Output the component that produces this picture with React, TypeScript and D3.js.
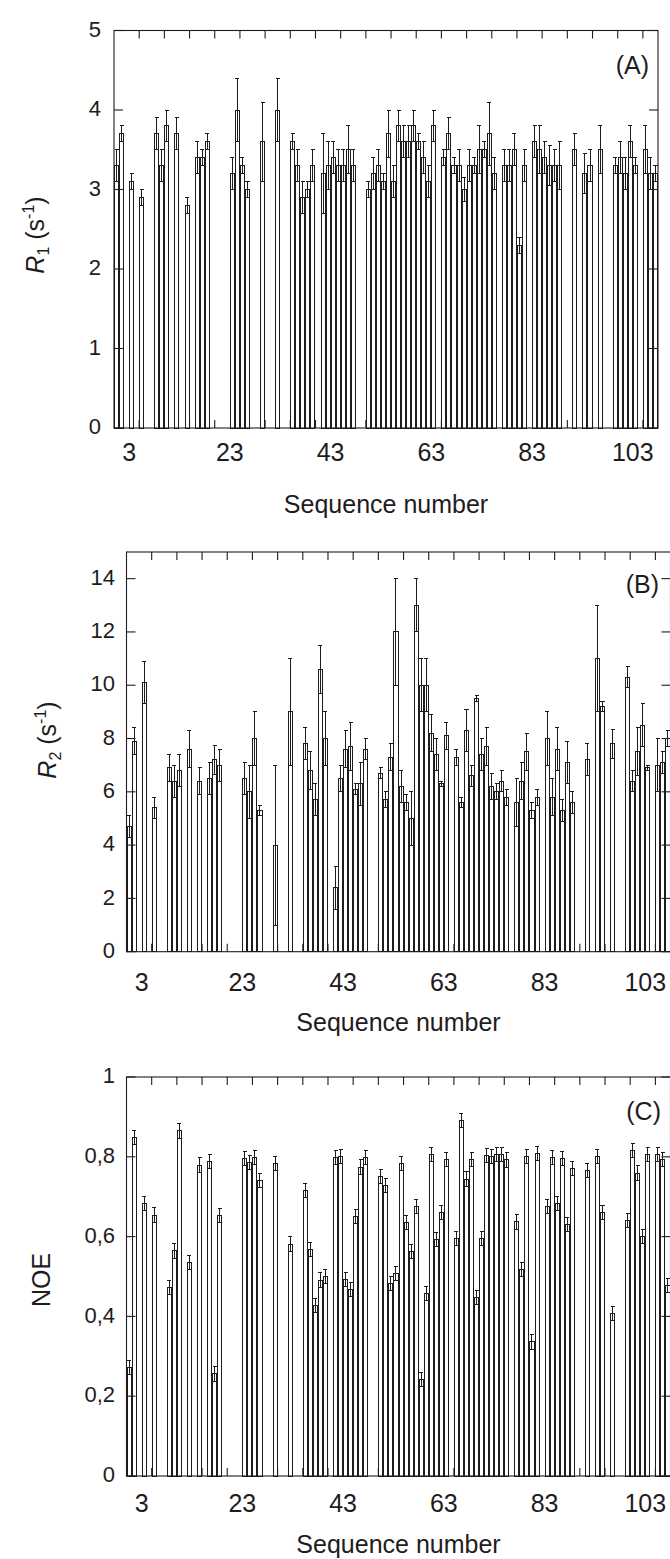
import * as d3 from 'd3';

// residues that carry a measurement (same set in all three panels)
const residues = [
  1, 2, 4, 6, 9, 10, 11, 13, 15, 17, 18, 19,
  24, 25, 26, 27, 30, 33,
  36, 37, 38, 39, 40,
  42, 43, 44, 45, 46, 47, 48,
  51, 52, 53, 54, 55, 56, 57, 58, 59, 60, 61, 62, 63, 64,
  66, 67, 68, 69, 70, 71, 72, 73, 74, 75, 76,
  78, 79, 80, 81, 82,
  84, 85, 86, 87, 88, 89,
  92, 94, 95, 97,
  100, 101, 102, 103, 104,
  106, 107, 108,
];

const r1 = [
  3.3, 3.7, 3.1, 2.9, 3.7, 3.3, 3.8, 3.7, 2.8, 3.4, 3.4, 3.6,
  3.2, 4.0, 3.3, 3.0, 3.6, 4.0,
  3.6, 3.3, 2.9, 3.0, 3.3,
  3.2, 3.3, 3.4, 3.3, 3.3, 3.5, 3.3,
  3.0, 3.2, 3.3, 3.1, 3.7, 3.1, 3.8, 3.6, 3.6, 3.8, 3.6, 3.4, 3.1, 3.8,
  3.4, 3.7, 3.3, 3.3, 3.0, 3.3, 3.3, 3.5, 3.5, 3.7, 3.2,
  3.3, 3.3, 3.5, 2.3, 3.3,
  3.6, 3.5, 3.4, 3.3, 3.3, 3.3,
  3.5, 3.2, 3.3, 3.5,
  3.3, 3.4, 3.2, 3.6, 3.3,
  3.5, 3.2, 3.2,
];
const r1Err = [
  0.2, 0.1, 0.1, 0.1, 0.2, 0.2, 0.2, 0.2, 0.1, 0.2, 0.1, 0.1,
  0.2, 0.4, 0.1, 0.1, 0.5, 0.4,
  0.1, 0.2, 0.2, 0.1, 0.2,
  0.5, 0.3, 0.2, 0.2, 0.2, 0.3, 0.2,
  0.1, 0.2, 0.2, 0.1, 0.3, 0.2, 0.2, 0.2, 0.2, 0.2, 0.1, 0.2, 0.2, 0.2,
  0.1, 0.2, 0.1, 0.2, 0.15, 0.2, 0.1, 0.3, 0.1, 0.4, 0.2,
  0.2, 0.2, 0.2, 0.1, 0.2,
  0.2, 0.3, 0.2, 0.25, 0.2, 0.3,
  0.2, 0.25, 0.2, 0.3,
  0.1, 0.2, 0.2, 0.2, 0.1,
  0.3, 0.2, 0.1,
];

const r2 = [
  4.7, 7.9, 10.1, 5.4, 6.9, 6.4, 6.8, 7.6, 6.4, 6.5, 7.2, 7.0,
  6.5, 6.0, 8.0, 5.3, 4.0, 9.0,
  7.8, 6.8, 5.7, 10.6, 8.0,
  2.4, 6.5, 7.6, 7.7, 6.1, 6.3, 7.6,
  6.7, 5.7, 7.3, 12.0, 6.2, 5.6, 5.0, 13.0, 10.0, 10.0, 8.2, 7.4, 6.3, 8.1,
  7.3, 5.6, 8.3, 6.6, 9.5, 7.4, 7.7, 6.2, 6.0, 6.4, 5.8,
  5.6, 6.4, 7.5, 5.3, 5.8,
  8.0, 5.8, 7.6, 5.3, 7.1, 5.6,
  7.2, 11.0, 9.2, 7.8,
  10.3, 6.4, 7.5, 8.5, 6.9,
  7.0, 7.1, 8.0,
];
const r2Err = [
  0.4, 0.5, 0.8, 0.4, 0.5, 0.6, 0.6, 0.7, 0.5, 0.6, 0.55, 0.6,
  0.6, 1.0, 1.0, 0.2, 3.0, 2.0,
  0.6, 0.7, 0.6, 0.9, 1.0,
  0.8, 0.5, 0.7, 0.9, 0.2, 0.8, 0.4,
  0.2, 0.3, 0.5, 2.0, 0.6, 0.3, 1.0, 1.0, 1.0, 1.0, 0.7, 0.6, 0.1, 0.5,
  0.3, 0.2, 0.8, 0.4, 0.1, 0.6, 0.7, 0.5, 0.3, 0.4, 0.3,
  0.9, 0.7, 0.7, 0.3, 0.3,
  1.0, 0.7, 0.8, 0.4, 0.8, 0.4,
  0.6, 2.0, 0.2, 0.55,
  0.4, 0.4, 0.9, 0.8, 0.1,
  1.0, 0.4, 0.3,
];

const noe = [
  0.272, 0.849, 0.683, 0.654, 0.473, 0.564, 0.865, 0.535, 0.779, 0.789, 0.256, 0.653,
  0.795, 0.785, 0.799, 0.741, 0.784, 0.581,
  0.716, 0.568, 0.427, 0.491, 0.5,
  0.799, 0.8, 0.493, 0.468, 0.651, 0.774, 0.799,
  0.751, 0.728, 0.483, 0.508, 0.784, 0.635, 0.563, 0.676, 0.242, 0.458, 0.806, 0.593, 0.661, 0.794,
  0.596, 0.891, 0.744, 0.794, 0.448, 0.596, 0.804, 0.8, 0.806, 0.806, 0.792,
  0.637, 0.518, 0.801, 0.336, 0.809,
  0.676, 0.799, 0.683, 0.796, 0.631, 0.771,
  0.766, 0.801, 0.661, 0.407,
  0.641, 0.816, 0.759, 0.601, 0.806,
  0.806, 0.794, 0.478,
];
const noeErr = [
  0.018, 0.018, 0.018, 0.018, 0.018, 0.018, 0.018, 0.018, 0.018, 0.018, 0.018, 0.018,
  0.018, 0.018, 0.018, 0.018, 0.018, 0.018,
  0.018, 0.018, 0.018, 0.018, 0.018,
  0.018, 0.018, 0.018, 0.018, 0.018, 0.018, 0.018,
  0.018, 0.018, 0.018, 0.018, 0.018, 0.018, 0.018, 0.018, 0.018, 0.018, 0.018, 0.018, 0.018, 0.018,
  0.018, 0.018, 0.018, 0.018, 0.018, 0.018, 0.018, 0.018, 0.018, 0.018, 0.018,
  0.018, 0.018, 0.018, 0.018, 0.018,
  0.018, 0.018, 0.018, 0.018, 0.018, 0.018,
  0.018, 0.018, 0.018, 0.018,
  0.018, 0.018, 0.018, 0.018, 0.018,
  0.018, 0.018, 0.018,
];

const xTickLabels = [3, 23, 43, 63, 83, 103];
const xMinorTicks = [5, 10, 15, 20, 25, 30, 35, 40, 45, 50, 55, 60, 65, 70, 75, 80, 85, 90, 95, 100, 105];
const r1Ticks = [0, 1, 2, 3, 4, 5];
const r2Ticks = [0, 2, 4, 6, 8, 10, 12, 14];
const noeTicks = [0, 0.2, 0.4, 0.6, 0.8, 1];

const INK = '#1f1c1d';
const FONT = '"Liberation Sans", Arial, Helvetica, sans-serif';

type PanelProps = {
  left: number;
  top: number;
  bottom: number;
  yMax: number;
  values: number[];
  errors: number[];
  yTicks: number[];
  fmt: (v: number) => string;
  tag: string;
  tagX: number;
  tagY: number;
  labelX: number;
  xLabelY: number;
  titleY: number;
  yTitle: React.ReactNode;
  yTitleX: number;
  yTitleY: number;
};

function Panel(p: PanelProps) {
  const width = 544;
  const x = d3.scaleLinear().domain([0, 108]).range([p.left, p.left + width]);
  const y = d3.scaleLinear().domain([0, p.yMax]).range([p.bottom, p.top]);
  const right = p.left + width;

  return (
    <g>
      {/* bars: residue r fills the interval [r-1, r] */}
      <g stroke={INK} strokeWidth={1} shapeRendering="crispEdges">
        {residues.map((r, i) => {
          const x0 = x(r - 1) + 0.5;
          const x1 = x(r) - 0.5;
          const cx = (x0 + x1) / 2;
          const v = p.values[i];
          const e = p.errors[i];
          return (
            <g key={r}>
              <rect x={x0} y={y(v)} width={x1 - x0} height={y(0) - y(v)} fill="#fff" />
              <line x1={cx} x2={cx} y1={y(v + e)} y2={y(v - e)} />
              <line x1={x0} x2={x1} y1={y(v + e)} y2={y(v + e)} />
              <line x1={x0} x2={x1} y1={y(v - e)} y2={y(v - e)} />
            </g>
          );
        })}
      </g>

      {/* frame and ticks */}
      <g stroke={INK} strokeWidth={1.1}>
        <rect x={p.left} y={p.top} width={width} height={p.bottom - p.top} fill="none" />
        {xMinorTicks.map((t) => (
          <g key={t}>
            <line x1={x(t)} x2={x(t)} y1={p.top} y2={p.top + 8} />
            <line x1={x(t)} x2={x(t)} y1={p.bottom} y2={p.bottom - 8} />
          </g>
        ))}
        {p.yTicks.map((t) => (
          <g key={t}>
            <line x1={p.left} x2={p.left + 9} y1={y(t)} y2={y(t)} />
            <line x1={right} x2={right - 9} y1={y(t)} y2={y(t)} />
          </g>
        ))}
      </g>

      {/* tick labels */}
      <g fill={INK} fontFamily={FONT}>
        {p.yTicks.map((t) => (
          <text key={t} x={p.labelX} y={y(t) - 1.5} dy="0.35em" textAnchor="end" fontSize={22}>
            {p.fmt(t)}
          </text>
        ))}
        {xTickLabels.map((t) => (
          <text key={t} x={x(t)} y={p.xLabelY} textAnchor="middle" fontSize={25}>
            {t}
          </text>
        ))}
        <text x={(p.left + right) / 2} y={p.titleY} textAnchor="middle" fontSize={25}>
          Sequence number
        </text>
        <text x={p.tagX} y={p.tagY} textAnchor="end" fontSize={25}>
          {p.tag}
        </text>
        <text transform={`translate(${p.yTitleX},${p.yTitleY}) rotate(-90)`} textAnchor="middle" fontSize={25}>
          {p.yTitle}
        </text>
      </g>
    </g>
  );
}

function RateTitle({ n }: { n: string }) {
  return (
    <>
      <tspan fontStyle="italic">R</tspan>
      <tspan fontSize={16} dy={5}>{n}</tspan>
      <tspan dy={-5}>{' (s'}</tspan>
      <tspan fontSize={16} dy={-10}>-1</tspan>
      <tspan dy={10}>)</tspan>
    </>
  );
}

export default function App() {
  const plain = (v: number) => String(v);
  const comma = (v: number) => String(v).replace('.', ',');
  return (
    <svg
      width={670}
      height={1559}
      viewBox="0 0 670 1559"
      style={{ position: 'absolute', left: 0, top: 0, background: '#fff' }}
    >
      <Panel
        left={114}
        top={30.5}
        bottom={428}
        yMax={5}
        values={r1}
        errors={r1Err}
        yTicks={r1Ticks}
        fmt={plain}
        tag="(A)"
        tagX={649}
        tagY={74}
        labelX={101}
        xLabelY={461}
        titleY={513}
        yTitle={<RateTitle n="1" />}
        yTitleX={44}
        yTitleY={235}
      />
      <Panel
        left={126.5}
        top={552}
        bottom={951.7}
        yMax={15}
        values={r2}
        errors={r2Err}
        yTicks={r2Ticks}
        fmt={plain}
        tag="(B)"
        tagX={659}
        tagY={593}
        labelX={115}
        xLabelY={991}
        titleY={1031}
        yTitle={<RateTitle n="2" />}
        yTitleX={56}
        yTitleY={740}
      />
      <Panel
        left={126.5}
        top={1077}
        bottom={1476}
        yMax={1}
        values={noe}
        errors={noeErr}
        yTicks={noeTicks}
        fmt={comma}
        tag="(C)"
        tagX={661}
        tagY={1120}
        labelX={115}
        xLabelY={1512}
        titleY={1553}
        yTitle="NOE"
        yTitleX={50}
        yTitleY={1280}
      />
    </svg>
  );
}
